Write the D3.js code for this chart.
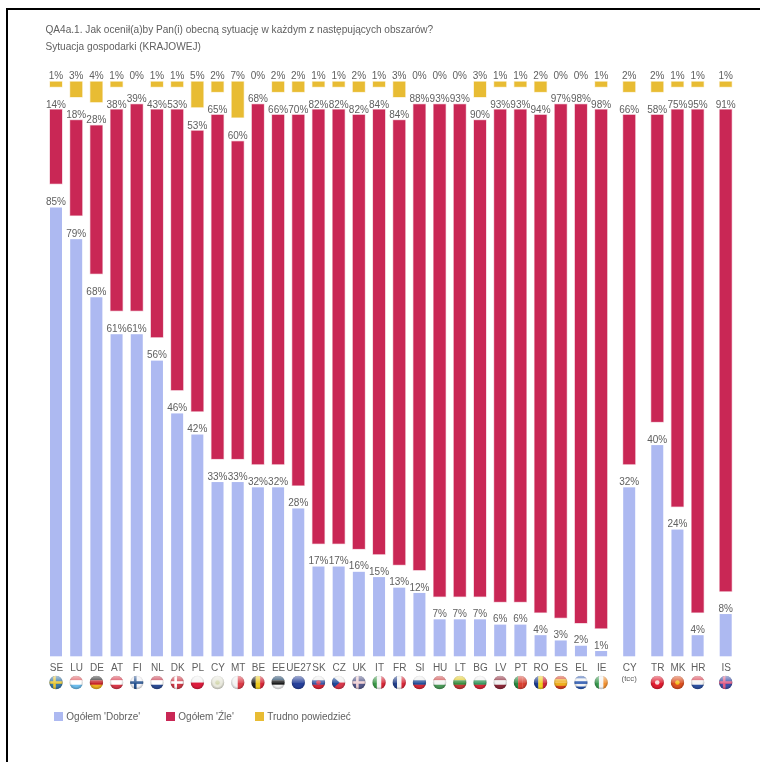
<!DOCTYPE html>
<html lang="pl"><head><meta charset="utf-8">
<script src="https://cdn.jsdelivr.net/npm/d3@7"></script>
<style>html,body{margin:0;padding:0;background:#fff;overflow:hidden}svg{display:block;filter:blur(.45px)}text{font-family:"Liberation Sans",Arial,sans-serif}</style>
</head><body><svg id="c" width="760" height="762"></svg>
<script>
const titleLines = ["QA4a.1. Jak ocenił(a)by Pan(i) obecną sytuację w każdym z następujących obszarów?", "Sytuacja gospodarki (KRAJOWEJ)"];
const categories = ["SE","LU","DE","AT","FI","NL","DK","PL","CY","MT","BE","EE","UE27","SK","CZ","UK","IT","FR","SI","HU","LT","BG","LV","PT","RO","ES","EL","IE","CY","TR","MK","HR","IS"];
const groupIndex = [0,0,0,0,0,0,0,0,0,0,0,0,0,0,0,0,0,0,0,0,0,0,0,0,0,0,0,0,1,2,2,2,3];
const good = [85,79,68,61,61,56,46,42,33,33,32,32,28,17,17,16,15,13,12,7,7,7,6,6,4,3,2,1,32,40,24,4,8];
const bad = [14,18,28,38,39,43,53,53,65,60,68,66,70,82,82,82,84,84,88,93,93,90,93,93,94,97,98,98,66,58,75,95,91];
const dk = [1,3,4,1,0,1,1,5,2,7,0,2,2,1,1,2,1,3,0,0,0,3,1,1,2,0,0,1,2,2,1,1,1];
const seriesNames = ["Ogółem 'Dobrze'","Ogółem 'Źle'","Trudno powiedzieć"];
const seriesColors = ["#adb9f1","#c92755","#e8bc33"];
const subLabels = {28:"(tcc)"};
// flag: [direction, stripe colours, cross colours, centre colour, hoist wedge colour]
const flags = [
 ["h",["#3a78a8"],["#e8c838"]],["h",["#e05a60","#fff","#6cbcec"]],["h",["#2a2a2a","#c8262c","#eeb020"]],["h",["#d8384a","#fff","#d8384a"]],
 ["h",["#f4f4f8"],["#24508e"]],["h",["#c8384c","#fff","#2c4c94"]],["h",["#cf3a48"],["#fff"]],["h",["#f4f4f4","#dc1c3c"]],
 ["h",["#e8e8dc"],null,"#d4d8b0"],["v",["#f2f2f2","#dc3c48"]],["v",["#222","#eecb20","#d82838"]],["h",["#1c4468","#1c1c1c","#f2f2f2"]],
 ["h",["#26409a"]],["h",["#f0f0f0","#3a5aa8","#d82838"],null,"#d84860"],["h",["#f0f0f0","#d8384c"],null,null,"#1f4a9c"],["h",["#565a8c"],["#f0d0d4"]],
 ["v",["#3c9a48","#f4f4f4","#d82838"]],["v",["#24408c","#f4f4f4","#d82838"]],["h",["#f0f0f0","#24509a","#d82838"]],["h",["#cf4848","#f4f4f4","#4a9a58"]],
 ["h",["#e2cc2c","#3a9040","#c83838"]],["h",["#f4f4f4","#3a9a60","#d82838"]],["h",["#8c2838","#f0f0f0","#8c2838"]],["v",["#2a8a40","#d84030","#d84030"]],
 ["v",["#1c3c90","#f0d020","#d02838"]],["h",["#d84020","#f0b020","#f0b020","#d84020"]],["h",["#2a58b0","#f4f4f4","#2a58b0","#f4f4f4","#2a58b0"]],["v",["#3a9a50","#f4f4f4","#f09030"]],
 null,["h",["#e01c30"],null,"#f8d8d8"],["h",["#dc5020"],null,"#f4c020"],["h",["#d84050","#f4f4f4","#2c50a0"]],["h",["#3c50a8"],["#e06088"]]
];

const svg = d3.select("#c");
const n = categories.length;
const xPos = i => i + groupIndex[i]*0.39;
const x = d3.scaleLinear().domain([0,1]).range([56,76.19]);
const cx = i => x(xPos(i));
const yGood = d3.scaleLinear().domain([0,100]).range([656.3,128.3]);
const yBad = d3.scaleLinear().domain([0,100]).range([104.3,633.6]);
const yDk = d3.scaleLinear().domain([0,100]).range([81.7,592]);
const barW = 12;
const textCol = "#606060";

// frame
svg.append("path").attr("d","M7,762V9H760").attr("fill","none").attr("stroke","#000").attr("stroke-width",2);

svg.selectAll("text.title").data(titleLines).join("text").attr("class","title")
 .attr("x",45.5).attr("y",(d,i)=>32.5+i*17.7).attr("font-size",10.1).attr("fill",textCol).text(d=>d);

const idx = d3.range(n);
const halo = s => s.attr("stroke-opacity",.28).attr("stroke-width",1.2);
svg.append("g").selectAll("rect").data(idx).join("rect")
 .attr("x",i=>cx(i)-barW/2).attr("width",barW)
 .attr("y",i=>yDk(0)).attr("height",i=>yDk(dk[i])-yDk(0))
 .attr("fill",seriesColors[2]).attr("stroke",seriesColors[2]).call(halo);
svg.append("g").selectAll("rect").data(idx).join("rect")
 .attr("x",i=>cx(i)-barW/2).attr("width",barW)
 .attr("y",i=>yBad(dk[i])).attr("height",i=>yBad(bad[i])-yBad(0))
 .attr("fill",seriesColors[1]).attr("stroke",seriesColors[1]).call(halo);
svg.append("g").selectAll("rect").data(idx).join("rect")
 .attr("x",i=>cx(i)-barW/2).attr("width",barW)
 .attr("y",i=>yGood(good[i])).attr("height",i=>yGood(0)-yGood(good[i]))
 .attr("fill",seriesColors[0]);

const lab = (yf,vals)=>svg.append("g").selectAll("text").data(idx).join("text")
 .attr("x",cx).attr("y",yf).attr("text-anchor","middle").attr("font-size",10).attr("fill",textCol).text(i=>vals[i]+"%");
lab(i=>yDk(0)-3,dk);
lab(i=>yBad(dk[i])-2,bad);
lab(i=>yGood(good[i])-2.4,good);

// category axis
const axisG = svg.append("g").attr("transform","translate(0,662)").call(
  d3.axisBottom(d3.scaleIdentity()).tickValues(idx.map(cx)).tickSize(0).tickPadding(1.5)
    .tickFormat((d,i)=>categories[i]));
axisG.select(".domain").remove();
axisG.selectAll("text").attr("font-size",10).attr("fill",textCol).attr("font-family",null);
svg.append("g").selectAll("text").data(Object.keys(subLabels)).join("text")
 .attr("x",k=>cx(+k)).attr("y",680.5).attr("text-anchor","middle").attr("font-size",7.8).attr("fill",textCol).text(k=>subLabels[k]);

// flags
const R = 6.7, fy = 682.5;
const defs = svg.append("defs");
defs.append("clipPath").attr("id","fc").append("circle").attr("r",R);
const g1 = defs.append("radialGradient").attr("id","gl").attr("cx",.5).attr("cy",.45).attr("r",.58);
g1.append("stop").attr("offset",.6).attr("stop-color","#000").attr("stop-opacity",0);
g1.append("stop").attr("offset",1).attr("stop-color","#000").attr("stop-opacity",.3);
const g2 = defs.append("linearGradient").attr("id","gh").attr("x1",0).attr("x2",0).attr("y1",0).attr("y2",1);
g2.append("stop").attr("offset",0).attr("stop-color","#fff").attr("stop-opacity",.6);
g2.append("stop").attr("offset",.5).attr("stop-color","#fff").attr("stop-opacity",.12);
g2.append("stop").attr("offset",.55).attr("stop-color","#fff").attr("stop-opacity",0);
const fl = svg.append("g").selectAll("g").data(idx.filter(i=>flags[i])).join("g")
 .attr("transform",i=>`translate(${cx(i)},${fy})`);
fl.each(function(i){
  const [dir,cols,cross,centre,wedge] = flags[i], g = d3.select(this).append("g").attr("clip-path","url(#fc)");
  const band = d3.scaleBand().domain(d3.range(cols.length)).range([-R,R]);
  g.selectAll("rect").data(cols).join("rect")
   .attr("x",(c,k)=>dir==="v"?band(k):-R).attr("y",(c,k)=>dir==="h"?band(k):-R)
   .attr("width",dir==="v"?band.bandwidth()+.2:2*R).attr("height",dir==="h"?band.bandwidth()+.2:2*R).attr("fill",c=>c);
  if(cross){
    g.append("rect").attr("x",-R).attr("y",-1.3).attr("width",2*R).attr("height",2.6).attr("fill",cross);
    g.append("rect").attr("x",-2.8).attr("y",-R).attr("width",2.6).attr("height",2*R).attr("fill",cross);
  }
  if(wedge) g.append("path").attr("d",`M${-R},${-R}L1,0L${-R},${R}Z`).attr("fill",wedge);
  if(centre) g.append("circle").attr("r",2.3).attr("fill",centre);
  d3.select(this).append("circle").attr("r",R).attr("fill","url(#gl)");
  d3.select(this).append("circle").attr("r",R).attr("fill","url(#gh)");
});

// legend
const legendX = d3.scaleOrdinal().domain(seriesNames).range([54,166,255]);
const lg = svg.append("g").selectAll("g").data(seriesNames).join("g").attr("transform",d=>`translate(${legendX(d)},712)`);
lg.append("rect").attr("width",9).attr("height",9).attr("fill",(d,i)=>seriesColors[i]);
lg.append("text").attr("x",12.3).attr("y",8).attr("font-size",10).attr("fill",textCol).text(d=>d);
</script></body></html>
